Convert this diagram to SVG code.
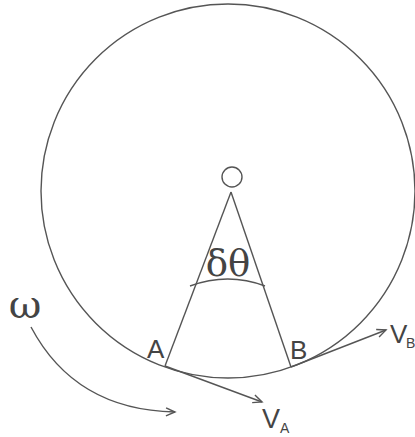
<svg xmlns="http://www.w3.org/2000/svg" width="415" height="437" viewBox="0 0 415 437">
<style>
.ln{fill:none;stroke:#555;stroke-width:1.4}
.t{font-family:"Liberation Sans",Arial,sans-serif;fill:#444}
.s{font-family:"DejaVu Serif","Liberation Serif","Times New Roman",serif;fill:#444}
</style>
<defs>
<marker id="ah" markerWidth="12" markerHeight="12" refX="10" refY="5" orient="auto" markerUnits="userSpaceOnUse">
<path d="M1 1 L10 5 L1 9" fill="none" stroke="#555" stroke-width="1.4"/>
</marker>
</defs>
<rect width="415" height="437" fill="#fff"/>
<g id="wheel">
<circle class="ln" cx="228" cy="191" r="187"/>
</g>
<g id="centre">
<circle class="ln" cx="232" cy="177" r="10"/>
</g>
<g id="connectors">
<path class="ln" d="M231 192 L165 366"/>
<path class="ln" d="M231 192 L291 367"/>
<path class="ln" d="M190 286 Q228 272 265 286"/>
<path class="ln" d="M165 366 L262 402" marker-end="url(#ah)"/>
<path class="ln" d="M291 367 L386 330" marker-end="url(#ah)"/>
<path class="ln" d="M31 327 Q75 410 175 412" marker-end="url(#ah)"/>
</g>
<g id="labels">
<text class="s" x="228" y="276" font-size="37" text-anchor="middle">δθ</text>
<text class="s" x="25" y="318" font-size="40" text-anchor="middle">ω</text>
<text class="t" x="147" y="358" font-size="26">A</text>
<text class="t" x="290" y="359" font-size="26">B</text>
<text class="t" x="262" y="428" font-size="27">V</text>
<text class="t" x="280" y="433" font-size="14">A</text>
<text class="t" x="390" y="343" font-size="26">V</text>
<text class="t" x="406" y="348" font-size="14">B</text>
</g>
</svg>
